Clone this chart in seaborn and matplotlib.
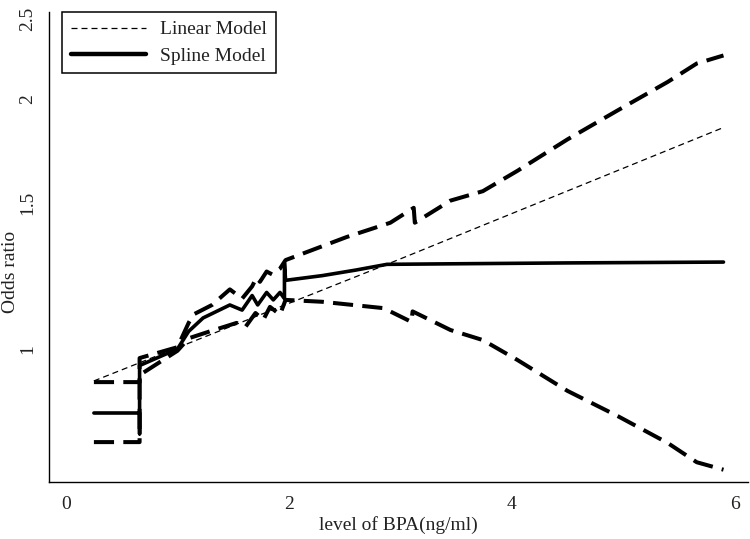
import numpy as np
import pandas as pd
import seaborn as sns
import matplotlib.pyplot as plt
from matplotlib.lines import Line2D

# Data (x = BPA level, y = odds ratio)
linear_x = [0.25, 2.88, 5.9]
linear_or = [0.915, 1.265, 1.85]

spline_x = [0.25, 0.66, 0.66, 0.66, 1.0, 1.1, 1.23, 1.47, 1.58, 1.67, 1.72, 1.8,
            1.86, 1.92, 1.96, 1.96, 1.97, 2.3, 2.6, 2.88, 3.5, 4.5, 5.9]
spline_or = [0.837, 0.837, 0.79, 0.955, 1.0, 1.05, 1.09, 1.13, 1.114, 1.16, 1.13, 1.17,
             1.146, 1.17, 1.15, 1.27, 1.21, 1.226, 1.245, 1.265, 1.267, 1.27, 1.273]

upper_x = [0.25, 0.66, 0.66, 1.0, 1.1, 1.14, 1.31, 1.47, 1.58, 1.67, 1.71, 1.74,
           1.8, 1.85, 1.92, 1.97, 2.52, 2.91, 3.12, 3.13, 3.45, 3.74, 4.05, 4.5,
           4.95, 5.4, 5.66, 5.9]
upper_or = [0.912, 0.912, 0.975, 1.005, 1.075, 1.1, 1.13, 1.18, 1.15, 1.19, 1.22, 1.205,
            1.24, 1.23, 1.25, 1.28, 1.365, 1.42, 1.48, 1.42, 1.51, 1.55, 1.64, 1.79,
            1.94, 2.10, 2.21, 2.26]

lower_x = [0.25, 0.66, 0.66, 1.0, 1.1, 1.29, 1.53, 1.61, 1.7, 1.77, 1.83, 1.92,
           1.97, 2.3, 2.85, 3.1, 3.11, 3.45, 3.74, 4.05, 4.5, 4.95, 5.4, 5.66, 5.9]
lower_or = [0.772, 0.772, 0.93, 0.995, 1.03, 1.05, 1.075, 1.063, 1.105, 1.084, 1.124, 1.1,
            1.146, 1.14, 1.12, 1.078, 1.11, 1.054, 1.025, 0.97, 0.89, 0.83, 0.77, 0.73, 0.715]

y_ticks = [1, 1.5, 2, 2.5]
y_labels = ['1', '1.5', '2', '2.5']
x_ticks = [0, 2, 4, 6]

sns.set_style('white')
plt.rcParams['font.family'] = ['Liberation Serif', 'DejaVu Serif']

fig = plt.figure(figsize=(7.5, 5.39), dpi=100)
ax = fig.add_axes([49 / 750, 1 - 482 / 539, 699 / 750, 470 / 539])

ci_style = dict(color='black', linewidth=2.9, linestyle=(0, (5, 2.3)))
sns.lineplot(x=upper_x, y=upper_or, sort=False, estimator=None, ax=ax, **ci_style)
sns.lineplot(x=lower_x, y=lower_or, sort=False, estimator=None, ax=ax, **ci_style)
sns.lineplot(x=linear_x, y=linear_or, sort=False, estimator=None, ax=ax,
             color='black', linewidth=0.9, linestyle=(0, (4.8, 3.2)))
sns.lineplot(x=spline_x, y=spline_or, sort=False, estimator=None, ax=ax,
             color='black', linewidth=2.6)

ax.set_yscale('log')
ax.set_xlim(-0.153, 6.12)
ax.set_ylim(0.691, 2.55)
ax.set_yticks(y_ticks)
ax.set_yticklabels(y_labels)
ax.yaxis.set_minor_locator(plt.NullLocator())
ax.set_xticks(x_ticks)
ax.set_xticklabels([str(t) for t in x_ticks])
plt.setp(ax.get_yticklabels(), rotation=90, va='center')

for s in ['top', 'right']:
    ax.spines[s].set_visible(False)
for s in ['left', 'bottom']:
    ax.spines[s].set_color('black')
    ax.spines[s].set_linewidth(1.0)
ax.tick_params(axis='both', direction='out', length=7, width=1, color='black',
               labelsize=14, labelcolor='#222222', pad=3)
ax.tick_params(axis='y', pad=2)

ax.set_xlabel('level of BPA(ng/ml)', fontsize=14, color='#222222', labelpad=2)
ax.set_ylabel('Odds ratio', fontsize=14, color='#222222')
ax.yaxis.set_label_coords(-0.043, 0.447)

handles = [Line2D([], [], color='black', linewidth=0.9, linestyle=(0, (4.8, 3.2))),
           Line2D([], [], color='black', linewidth=3.2)]
leg = ax.legend(handles, ['Linear Model', 'Spline Model'], loc='upper left',
                bbox_to_anchor=(0.019, 1.0), borderaxespad=0, fancybox=False,
                framealpha=1, edgecolor='black', fontsize=14, handlelength=3.85,
                borderpad=0.45, labelspacing=0.45, handletextpad=0.75)
leg.get_frame().set_linewidth(1.1)
for t in leg.get_texts():
    t.set_color('#222222')

fig.savefig('out.png', dpi=100)
